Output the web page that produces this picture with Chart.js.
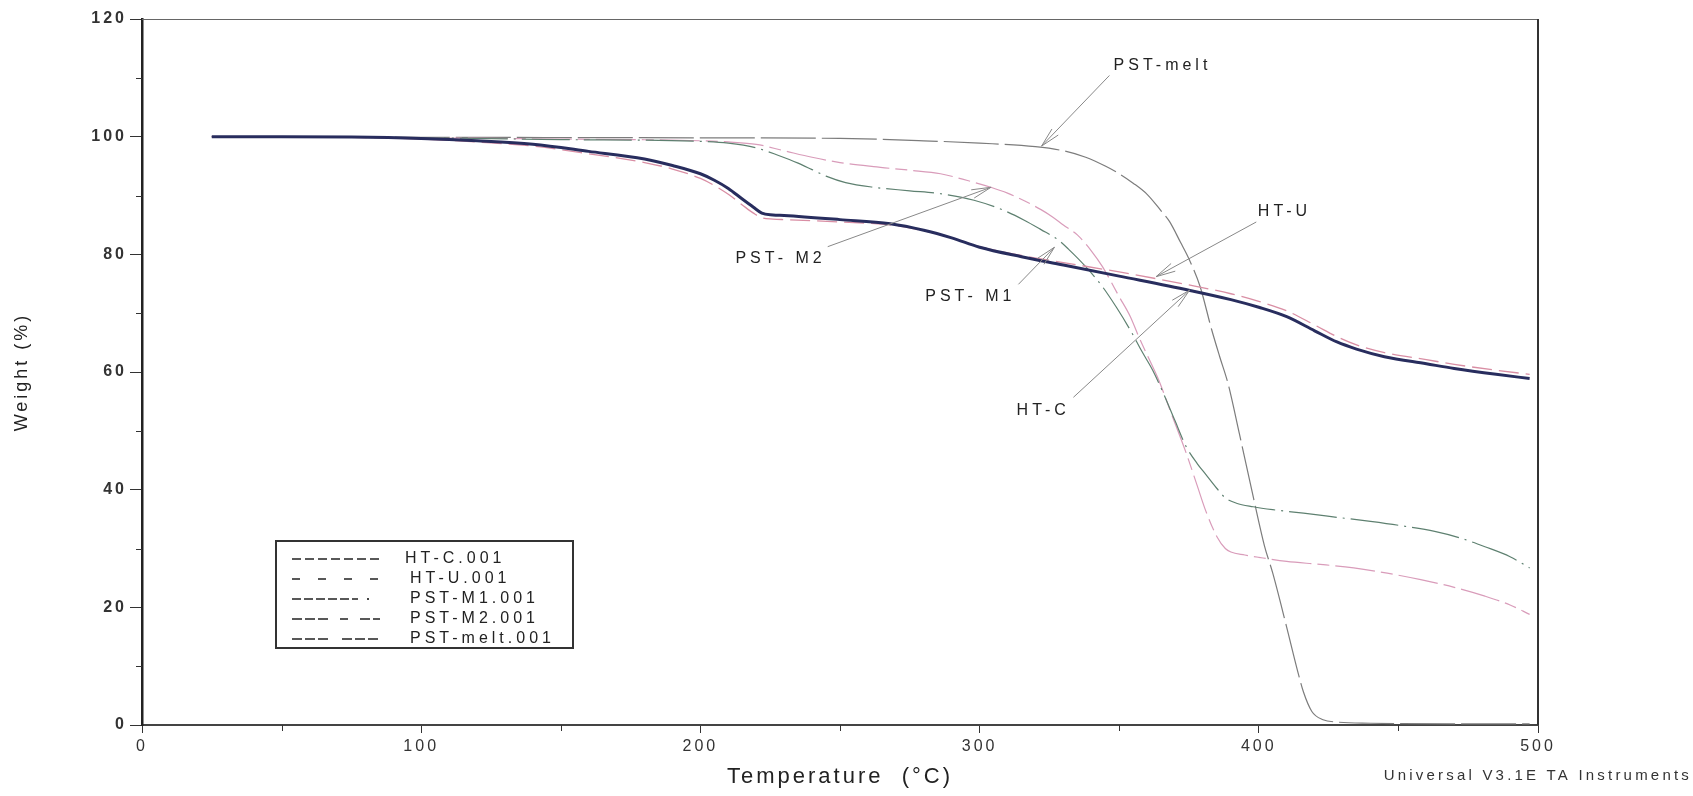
<!DOCTYPE html>
<html>
<head>
<meta charset="utf-8">
<title>TGA - Weight vs Temperature</title>
<script src="https://cdn.jsdelivr.net/npm/chart.js@4.4.1/dist/chart.umd.min.js"></script>
<style>
  html, body { margin: 0; padding: 0; background: #fff; }
  canvas { display: block; }
</style>
</head>
<body>
<canvas id="tgaChart" width="1693" height="796"></canvas>
<script>
// ==========================================================================
// TGA curves — Weight (%) vs Temperature (°C)
// ==========================================================================

// 1. Data
const htTemp = [25, 50, 75, 100, 120, 140, 160, 180, 190, 200, 205, 210, 215, 219, 222, 226, 230, 250, 268, 280, 290, 300, 315, 330, 350, 375, 390, 400, 410, 420, 428, 435, 445, 460, 470, 485, 497];
const htcWeight = [100, 100, 99.95, 99.7, 99.3, 98.7, 97.5, 96.2, 95.1, 93.7, 92.6, 91.2, 89.4, 88.0, 87.0, 86.7, 86.6, 85.9, 85.2, 84.1, 82.8, 81.2, 79.6, 78.2, 76.3, 73.9, 72.3, 71.0, 69.4, 67.0, 65.1, 63.9, 62.6, 61.4, 60.6, 59.6, 58.9];
const htuWeight = [100, 100, 99.9, 99.6, 99.1, 98.4, 97.1, 95.6, 94.5, 92.9, 91.7, 90.2, 88.4, 87.0, 86.2, 86.0, 85.9, 85.5, 85.0, 84.0, 82.8, 81.3, 79.8, 78.6, 77.0, 74.8, 73.3, 72.0, 70.4, 68.0, 66.0, 64.6, 63.3, 62.1, 61.3, 60.3, 59.6];

const pm1Temp = [25, 100, 150, 200, 210, 220, 228, 235, 240, 245, 252, 262, 275, 286, 298, 308, 316, 322, 328, 332, 338, 344, 349, 354, 358, 362, 366, 370, 374, 378, 381, 385, 388, 392, 398, 405, 416, 428, 440, 452, 463, 472, 481, 490, 497];
const pm1Weight = [100, 99.8, 99.5, 99.2, 98.9, 98.1, 96.8, 95.5, 94.4, 93.3, 92.2, 91.4, 90.8, 90.3, 89.2, 87.6, 85.8, 84.2, 82.5, 80.8, 77.9, 74.5, 71.0, 67.1, 63.6, 60.3, 56.2, 51.7, 47.3, 44.4, 42.6, 40.2, 38.6, 37.7, 37.1, 36.6, 36.0, 35.3, 34.6, 33.8, 32.9, 31.8, 30.3, 28.6, 26.7];

const pm2Temp = [25, 100, 150, 200, 210, 220, 230, 240, 250, 262, 275, 286, 296, 304, 310, 316, 322, 326, 330, 335, 340, 344, 350, 354, 357, 361, 364, 369, 374, 378, 381, 385, 388, 390, 395, 400, 410, 422, 434, 446, 458, 470, 481, 490, 497];
const pm2Weight = [100, 99.8, 99.6, 99.3, 99.1, 98.7, 97.6, 96.5, 95.6, 94.9, 94.3, 93.7, 92.5, 91.4, 90.4, 89.1, 87.6, 86.4, 85.0, 83.3, 80.6, 77.9, 72.8, 69.4, 66.0, 61.9, 58.8, 52.5, 46.2, 40.6, 36.4, 32.0, 30.0, 29.4, 28.9, 28.5, 27.8, 27.3, 26.7, 25.8, 24.7, 23.4, 21.9, 20.4, 18.8];

const meltTemp = [25, 100, 200, 250, 280, 300, 320, 330, 338, 345, 350, 355, 360, 365, 368, 372, 375, 379, 383, 386, 389, 393, 398, 402, 405, 410, 414, 416, 419, 423, 428, 440, 470, 497];
const meltWeight = [100, 99.9, 99.8, 99.7, 99.3, 98.9, 98.3, 97.6, 96.5, 95.0, 93.7, 92.1, 90.2, 87.4, 85.6, 82.0, 79.2, 74.5, 67.4, 62.6, 58.0, 49.6, 38.8, 30.5, 25.8, 16.6, 9.0, 5.6, 2.3, 0.9, 0.5, 0.3, 0.2, 0.2];

// Axis ticks
const xTicks = [0, 100, 200, 300, 400, 500];
const yTicks = [0, 20, 40, 60, 80, 100, 120];
const xMinor = [50, 150, 250, 350, 450];
const yMinor = [10, 30, 50, 70, 90, 110];

// Legend / label texts
const seriesNames = ['HT-C.001', 'HT-U.001', 'PST-M1.001', 'PST-M2.001', 'PST-melt.001'];

// Callout labels: text position, arrow start, arrow tip (in data units)
const callouts = [
  { text: 'PST-melt', at: [365.5, 112.1], from: [346.5, 110.4], to: [322.2, 98.4] },
  { text: 'PST- M2', at: [228.7, 79.2], from: [245.6, 81.3], to: [304.1, 91.4] },
  { text: 'PST- M1', at: [296.7, 72.8], from: [313.9, 74.9], to: [326.8, 81.2] },
  { text: 'HT-U', at: [409.2, 87.2], from: [399.1, 85.5], to: [363.2, 76.2] },
  { text: 'HT-C', at: [322.8, 53.4], from: [333.6, 55.7], to: [375.2, 73.9] }
];

function toPoints(xs, ys) {
  return xs.map((x, i) => ({ x: x, y: ys[i] }));
}

const FONT = '"Liberation Sans", Arial, sans-serif';

// 2. Plugin: frame, minor ticks, callouts, legend box, footer text
const decorPlugin = {
  id: 'tgaDecor',
  beforeDraw(chart) {
    chart.ctx.letterSpacing = '3px';
  },
  afterDatasetsDraw(chart) {
    const { ctx, chartArea: a, scales } = chart;
    const xs = scales.x, ys = scales.y;

    ctx.save();
    // top + right frame
    ctx.strokeStyle = '#666';
    ctx.lineWidth = 1;
    ctx.beginPath();
    ctx.moveTo(a.left, a.top + 0.5);
    ctx.lineTo(a.right, a.top + 0.5);
    ctx.stroke();
    ctx.strokeStyle = '#333';
    ctx.lineWidth = 2;
    ctx.beginPath();
    ctx.moveTo(a.right, a.top);
    ctx.lineTo(a.right, a.bottom);
    ctx.stroke();

    // minor ticks
    ctx.strokeStyle = '#333';
    ctx.lineWidth = 1;
    yMinor.forEach(v => {
      const y = Math.round(ys.getPixelForValue(v)) + 0.5;
      ctx.beginPath();
      ctx.moveTo(a.left - 6, y);
      ctx.lineTo(a.left, y);
      ctx.stroke();
    });
    xMinor.forEach(v => {
      const x = Math.round(xs.getPixelForValue(v)) + 0.5;
      ctx.beginPath();
      ctx.moveTo(x, a.bottom);
      ctx.lineTo(x, a.bottom + 6);
      ctx.stroke();
    });

    // callouts with open arrowheads
    ctx.font = '16px ' + FONT;
    ctx.letterSpacing = '4px';
    ctx.fillStyle = '#222';
    ctx.textAlign = 'center';
    ctx.textBaseline = 'middle';
    callouts.forEach(c => {
      const tx = xs.getPixelForValue(c.at[0]), ty = ys.getPixelForValue(c.at[1]);
      const x0 = xs.getPixelForValue(c.from[0]), y0 = ys.getPixelForValue(c.from[1]);
      const x1 = xs.getPixelForValue(c.to[0]), y1 = ys.getPixelForValue(c.to[1]);
      ctx.fillText(c.text, tx, ty);

      ctx.strokeStyle = '#888';
      ctx.lineWidth = 1;
      ctx.beginPath();
      ctx.moveTo(x0, y0);
      ctx.lineTo(x1, y1);
      ctx.stroke();

      const ang = Math.atan2(y1 - y0, x1 - x0);
      const len = 20, spread = 0.22;
      ctx.beginPath();
      ctx.moveTo(x1 - len * Math.cos(ang - spread), y1 - len * Math.sin(ang - spread));
      ctx.lineTo(x1, y1);
      ctx.lineTo(x1 - len * Math.cos(ang + spread), y1 - len * Math.sin(ang + spread));
      ctx.stroke();
    });
    ctx.restore();
  },
  afterDraw(chart) {
    const { ctx } = chart;
    ctx.save();

    // legend box
    const bx = 276, by = 541, bw = 297, bh = 107;
    ctx.fillStyle = '#fff';
    ctx.fillRect(bx, by, bw, bh);
    ctx.strokeStyle = '#333';
    ctx.lineWidth = 2;
    ctx.strokeRect(bx, by, bw, bh);

    const legendDash = [[9, 4], [8, 18], [9, 3], [10, 3, 10, 3, 10, 12, 8, 12], [10, 3, 10, 3, 10, 14]];
    const legendLen = [88, 88, 66, 88, 88];
    ctx.font = '16px ' + FONT;
    ctx.letterSpacing = '4px';
    ctx.textAlign = 'left';
    ctx.textBaseline = 'middle';
    seriesNames.forEach((name, i) => {
      const y = 559 + i * 20;
      ctx.strokeStyle = '#222';
      ctx.lineWidth = 1.3;
      ctx.setLineDash(legendDash[i]);
      ctx.beginPath();
      ctx.moveTo(292, y);
      ctx.lineTo(292 + legendLen[i], y);
      ctx.stroke();
      if (i === 2) {
        ctx.setLineDash([]);
        ctx.fillStyle = '#444';
        ctx.fillRect(367, y - 1, 2, 2);
      }
      ctx.setLineDash([]);
      ctx.fillStyle = '#222';
      ctx.fillText(name, i === 0 ? 405 : 410, y);
    });

    // instrument footer
    ctx.font = '15px ' + FONT;
    ctx.letterSpacing = '3.2px';
    ctx.fillStyle = '#333';
    ctx.textAlign = 'right';
    ctx.fillText('Universal V3.1E TA Instruments', 1692, 776);
    ctx.restore();
  }
};

// 3. Build the chart
const ctx = document.getElementById('tgaChart');

new Chart(ctx, {
  type: 'line',
  data: {
    datasets: [
      {
        label: seriesNames[4],
        data: toPoints(meltTemp, meltWeight),
        borderColor: '#7c7c7c',
        borderWidth: 1.2,
        borderDash: [55, 6],
        order: 5
      },
      {
        label: seriesNames[3],
        data: toPoints(pm2Temp, pm2Weight),
        borderColor: '#d99cba',
        borderWidth: 1.2,
        borderDash: [40, 6, 12, 6],
        order: 4
      },
      {
        label: seriesNames[2],
        data: toPoints(pm1Temp, pm1Weight),
        borderColor: '#5e8070',
        borderWidth: 1.2,
        borderDash: [48, 6, 2, 6],
        order: 3
      },
      {
        label: seriesNames[1],
        data: toPoints(htTemp, htuWeight),
        borderColor: '#d98ea4',
        borderWidth: 1.3,
        borderDash: [20, 7],
        order: 2
      },
      {
        label: seriesNames[0],
        data: toPoints(htTemp, htcWeight),
        borderColor: '#282d5e',
        borderWidth: 3,
        order: 1
      }
    ]
  },
  options: {
    responsive: false,
    animation: false,
    parsing: true,
    layout: {
      padding: { left: 0, top: 19, right: 155, bottom: 0 }
    },
    elements: {
      point: { radius: 0 },
      line: { cubicInterpolationMode: 'monotone', fill: false }
    },
    plugins: {
      legend: { display: false },
      tooltip: { enabled: false }
    },
    scales: {
      x: {
        type: 'linear',
        min: 0,
        max: 500,
        afterFit(scale) { scale.height = 71; },
        afterBuildTicks(scale) { scale.ticks = xTicks.map(v => ({ value: v })); },
        grid: { drawOnChartArea: false, drawTicks: true, tickLength: 8, color: '#333' },
        border: { display: true, color: '#444', width: 2 },
        ticks: {
          color: '#333',
          padding: 4,
          font: { family: FONT, size: 16 }
        },
        title: {
          display: true,
          text: 'Temperature  (°C)',
          color: '#222',
          font: { family: FONT, size: 22 },
          padding: { top: 0, bottom: 6 }
        }
      },
      y: {
        type: 'linear',
        min: 0,
        max: 120,
        afterFit(scale) { scale.width = 142; },
        afterBuildTicks(scale) { scale.ticks = yTicks.map(v => ({ value: v })); },
        grid: { drawOnChartArea: false, drawTicks: true, tickLength: 12, color: '#333' },
        border: { display: true, color: '#222', width: 2.5 },
        ticks: {
          color: '#333',
          padding: 3,
          font: { family: FONT, size: 16, weight: 'bold' }
        },
        title: {
          display: true,
          text: 'Weight (%)',
          color: '#222',
          font: { family: FONT, size: 18 },
          padding: { top: 11, bottom: 0 }
        }
      }
    }
  },
  plugins: [decorPlugin]
});
</script>
</body>
</html>
